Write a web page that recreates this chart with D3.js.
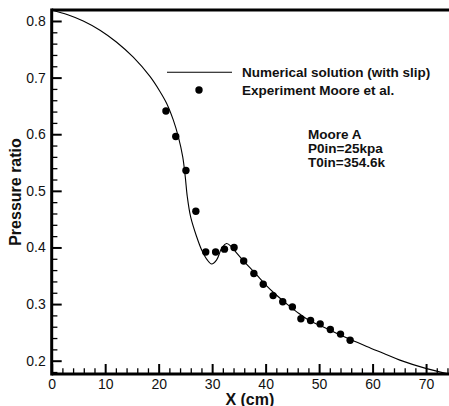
<!DOCTYPE html>
<html>
<head>
<meta charset="utf-8">
<script src="https://cdn.jsdelivr.net/npm/d3@7"></script>
<style>
html,body{margin:0;padding:0;background:#fff;}
svg{display:block;font-family:"Liberation Sans",Arial,sans-serif;}
</style>
</head>
<body>
<svg id="chart" width="449" height="406"></svg>
<script>
// Numerical solution (with slip)
const simX = [0, 3, 5.9, 9.03, 12.15, 15.25, 18.37, 20.24, 21.5, 22.73, 23.66, 24.5, 24.97, 25.35, 25.98, 27.1, 28.04, 29.08, 29.9, 30.84, 31.78, 32.7, 33.64, 34.6, 35.9, 38, 40, 42, 44, 46, 48, 50, 52, 54, 56, 58.9, 62, 65.1, 70.1, 74.1];
const simY = [0.8194, 0.811, 0.800, 0.7837, 0.7625, 0.736, 0.7021, 0.6756, 0.6544, 0.6253, 0.5961, 0.560, 0.525, 0.490, 0.454, 0.419, 0.3955, 0.378, 0.3707, 0.378, 0.3985, 0.407, 0.401, 0.390, 0.376, 0.355, 0.334, 0.316, 0.300, 0.285, 0.272, 0.263, 0.254, 0.245, 0.237, 0.225, 0.213, 0.201, 0.186, 0.177];
// Experiment Moore et al.
const expX = [21.36, 23.2, 25.1, 26.95, 28.8, 30.65, 32.3, 34.1, 35.9, 37.8, 39.55, 41.4, 43.2, 45.0, 46.6, 48.4, 50.2, 52.1, 54.0, 55.8];
const expY = [0.641, 0.596, 0.536, 0.464, 0.392, 0.392, 0.397, 0.400, 0.376, 0.354, 0.335, 0.315, 0.304, 0.295, 0.274, 0.271, 0.265, 0.255, 0.247, 0.236];

const xTicks = [0, 10, 20, 30, 40, 50, 60, 70];
const yTicks = [0.2, 0.3, 0.4, 0.5, 0.6, 0.7, 0.8];
const legendLabels = ["Numerical solution (with slip)", "Experiment Moore et al."];
const noteLines = ["Moore A", "P0in=25kpa", "T0in=354.6k"];
const xTitle = "X (cm)";
const yTitle = "Pressure ratio";

const L = 51.7, R = 448, T = 10, B = 374;
const x = d3.scaleLinear().domain([0, 74.1]).range([L, R]);
const y = d3.scaleLinear().domain([0.1765, 0.8194]).range([B, T]);

const svg = d3.select("#chart");

// minor ticks
const xMinor = d3.range(0, 74.1, 2).filter(v => v % 10 !== 0);
const yMinor = d3.range(0.18, 0.82, 0.02).filter(v => Math.abs(v*10 - Math.round(v*10)) > 1e-6);

const xAxisMajor = d3.axisBottom(x).tickValues(xTicks).tickSize(-10).tickSizeOuter(0).tickPadding(4).tickFormat(d3.format("d"));
const gx = svg.append("g").attr("transform", `translate(0,${B})`).call(xAxisMajor);
gx.select(".domain").remove();
gx.selectAll(".tick line").attr("stroke", "#000").attr("stroke-width", 2);
gx.selectAll(".tick text").attr("font-size", 14).attr("fill", "#111").attr("dy", "1.05em").attr("y", 0);

const gxm = svg.append("g").attr("transform", `translate(0,${B})`)
  .call(d3.axisBottom(x).tickValues(xMinor).tickSize(-5.7).tickSizeOuter(0).tickFormat(""));
gxm.select(".domain").remove();
gxm.selectAll(".tick line").attr("stroke", "#000").attr("stroke-width", 1.3);

const yAxisMajor = d3.axisLeft(y).tickValues(yTicks).tickSize(-10).tickSizeOuter(0).tickPadding(6).tickFormat(d3.format(".1f"));
const gy = svg.append("g").attr("transform", `translate(${L},0)`).call(yAxisMajor);
gy.select(".domain").remove();
gy.selectAll(".tick line").attr("stroke", "#000").attr("stroke-width", 2);
gy.selectAll(".tick text").attr("font-size", 14).attr("fill", "#111").attr("x", -6);

const gym = svg.append("g").attr("transform", `translate(${L},0)`)
  .call(d3.axisLeft(y).tickValues(yMinor).tickSize(-5.7).tickSizeOuter(0).tickFormat(""));
gym.select(".domain").remove();
gym.selectAll(".tick line").attr("stroke", "#000").attr("stroke-width", 1.3);

// frame
svg.append("line").attr("x1", L).attr("x2", R + 2).attr("y1", B).attr("y2", B).attr("stroke", "#000").attr("stroke-width", 3);
svg.append("line").attr("x1", L).attr("x2", R + 2).attr("y1", T).attr("y2", T).attr("stroke", "#000").attr("stroke-width", 3);
svg.append("line").attr("x1", L).attr("x2", L).attr("y1", T - 1.5).attr("y2", B + 1.5).attr("stroke", "#000").attr("stroke-width", 3);

// curve
const simData = simX.map((v, i) => [v, simY[i]]);
svg.append("path").datum(simData)
  .attr("fill", "none").attr("stroke", "#000").attr("stroke-width", 1.1)
  .attr("d", d3.line().x(d => x(d[0])).y(d => y(d[1])).curve(d3.curveCatmullRom.alpha(0.5)));

// points
svg.append("g").selectAll("circle").data(expX.map((v, i) => [v, expY[i]])).join("circle")
  .attr("cx", d => x(d[0])).attr("cy", d => y(d[1])).attr("r", 3.7).attr("fill", "#000");

// legend
svg.append("line").attr("x1", 167).attr("x2", 232).attr("y1", 72.3).attr("y2", 72.3).attr("stroke", "#000").attr("stroke-width", 1.1);
svg.append("circle").attr("cx", 199).attr("cy", 90).attr("r", 3.7).attr("fill", "#000");
svg.append("text").attr("x", 242).attr("y", 72.3).attr("dominant-baseline", "central")
  .attr("font-size", 13.5).attr("font-weight", "bold").attr("fill", "#111").text(legendLabels[0]);
svg.append("text").attr("x", 242).attr("y", 90).attr("dominant-baseline", "central")
  .attr("font-size", 13.5).attr("font-weight", "bold").attr("fill", "#111").text(legendLabels[1]);

// annotation
noteLines.forEach((t, i) => {
  svg.append("text").attr("x", 308).attr("y", 134 + i * 14).attr("dominant-baseline", "central")
    .attr("font-size", 13.5).attr("font-weight", "bold").attr("fill", "#111").text(t);
});

// axis titles
svg.append("text").attr("x", (L + R) / 2).attr("y", 399).attr("text-anchor", "middle").attr("dominant-baseline", "central")
  .attr("font-size", 16).attr("font-weight", "bold").attr("fill", "#111").text(xTitle);
svg.append("text").attr("transform", `translate(15.5,${(T + B) / 2}) rotate(-90)`).attr("text-anchor", "middle").attr("dominant-baseline", "central")
  .attr("font-size", 16).attr("font-weight", "bold").attr("fill", "#111").text(yTitle);
</script>
</body>
</html>
